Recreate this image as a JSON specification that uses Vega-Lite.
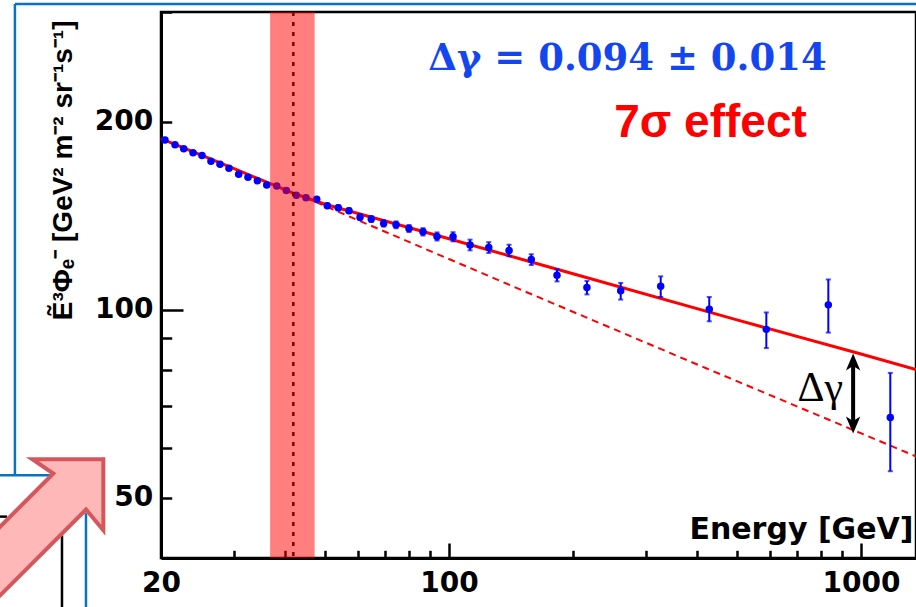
{
  "$schema": "https://vega.github.io/schema/vega-lite/v6.json",
  "width": 755,
  "height": 546,
  "autosize": {"type": "none"},
  "padding": {"left": 161, "top": 12, "right": 0, "bottom": 49},
  "background": "white",
  "config": {"view": {"stroke": "black", "strokeWidth": 2.5}},
  "datasets": {
    "points": [
      {"E": 20.45, "F": 187.0, "lo": 186.0, "hi": 188.0},
      {"E": 21.63, "F": 183.8, "lo": 182.8, "hi": 184.8},
      {"E": 22.71, "F": 181.1, "lo": 180.1, "hi": 182.1},
      {"E": 23.92, "F": 178.4, "lo": 177.4, "hi": 179.4},
      {"E": 25.15, "F": 176.7, "lo": 175.7, "hi": 177.7},
      {"E": 26.44, "F": 172.9, "lo": 171.9, "hi": 173.9},
      {"E": 27.81, "F": 171.1, "lo": 170.1, "hi": 172.1},
      {"E": 29.24, "F": 168.6, "lo": 167.6, "hi": 169.6},
      {"E": 30.87, "F": 164.8, "lo": 163.8, "hi": 165.8},
      {"E": 32.52, "F": 163.1, "lo": 162.0, "hi": 164.2},
      {"E": 34.26, "F": 160.9, "lo": 159.8, "hi": 162.0},
      {"E": 36.11, "F": 158.4, "lo": 157.3, "hi": 159.5},
      {"E": 38.19, "F": 157.8, "lo": 156.7, "hi": 158.9},
      {"E": 40.29, "F": 155.3, "lo": 154.2, "hi": 156.4},
      {"E": 42.6, "F": 152.5, "lo": 151.4, "hi": 153.6},
      {"E": 44.98, "F": 151.2, "lo": 150.0, "hi": 152.4},
      {"E": 47.75, "F": 150.3, "lo": 149.1, "hi": 151.5},
      {"E": 50.66, "F": 146.7, "lo": 145.5, "hi": 147.9},
      {"E": 53.87, "F": 145.7, "lo": 144.4, "hi": 147.0},
      {"E": 57.19, "F": 144.1, "lo": 142.8, "hi": 145.4},
      {"E": 60.82, "F": 140.7, "lo": 139.2, "hi": 142.3},
      {"E": 64.77, "F": 139.7, "lo": 138.2, "hi": 141.2},
      {"E": 69.42, "F": 137.5, "lo": 135.9, "hi": 139.1},
      {"E": 74.39, "F": 136.8, "lo": 135.1, "hi": 138.5},
      {"E": 79.98, "F": 134.9, "lo": 133.2, "hi": 136.7},
      {"E": 86.48, "F": 133.3, "lo": 131.5, "hi": 135.1},
      {"E": 93.52, "F": 131.0, "lo": 129.1, "hi": 133.0},
      {"E": 102.3, "F": 130.9, "lo": 128.7, "hi": 133.1},
      {"E": 112.5, "F": 127.0, "lo": 124.5, "hi": 129.5},
      {"E": 124.9, "F": 125.8, "lo": 123.3, "hi": 128.3},
      {"E": 139.9, "F": 124.4, "lo": 121.8, "hi": 127.1},
      {"E": 158.4, "F": 120.4, "lo": 117.9, "hi": 122.7},
      {"E": 182.9, "F": 113.6, "lo": 111.0, "hi": 116.1},
      {"E": 216.2, "F": 108.5, "lo": 105.8, "hi": 111.2},
      {"E": 261.1, "F": 107.2, "lo": 103.8, "hi": 110.4},
      {"E": 326.5, "F": 109.0, "lo": 104.8, "hi": 113.1},
      {"E": 428.3, "F": 100.2, "lo": 95.8, "hi": 104.8},
      {"E": 589.2, "F": 93.0, "lo": 86.8, "hi": 99.0},
      {"E": 833.2, "F": 101.8, "lo": 91.9, "hi": 111.8},
      {"E": 1178, "F": 67.2, "lo": 55.1, "hi": 79.2}
    ],
    "fit": [
      {"E": 20, "F": 188.0},
      {"E": 30, "F": 168.4},
      {"E": 42, "F": 153.6},
      {"E": 50, "F": 147.6},
      {"E": 100, "F": 129.9},
      {"E": 200, "F": 114.2},
      {"E": 500, "F": 96.3},
      {"E": 1000, "F": 84.9},
      {"E": 1360, "F": 80.2}
    ],
    "extrap": [
      {"E": 44.7, "F": 151.3},
      {"E": 148.7, "F": 107.8},
      {"E": 422.2, "F": 80.5},
      {"E": 1360, "F": 58.2}
    ],
    "deco": [
      {"kind": "blue", "x1": 8.84, "x2": 1500, "y1": 309, "y2": 309},
      {"kind": "blue", "x1": 8.84, "x2": 8.84, "y1": 309, "y2": 54.3},
      {"kind": "blue", "x1": 7.5, "x2": 10.76, "y1": 54.3, "y2": 54.3},
      {"kind": "blue", "x1": 13.15, "x2": 13.15, "y1": 47.2, "y2": 30},
      {"kind": "black", "x1": 11.5, "x2": 11.5, "y1": 43.5, "y2": 30},
      {"kind": "black", "x1": 7.5, "x2": 8.46, "y1": 46.6, "y2": 46.6}
    ]
  },
  "resolve": {"axis": {"x": "independent", "y": "independent"}},
  "layer": [
    {
      "data": {"name": "deco"},
      "mark": {"type": "rule", "strokeWidth": 2.5, "clip": false},
      "encoding": {
        "x": {"field": "x1", "type": "quantitative", "scale": {"type": "log", "domain": [20, 1360], "nice": false}, "axis": null},
        "x2": {"field": "x2"},
        "y": {"field": "y1", "type": "quantitative", "scale": {"type": "log", "domain": [40, 300], "nice": false}, "axis": null},
        "y2": {"field": "y2"},
        "color": {"field": "kind", "type": "nominal", "scale": {"domain": ["blue", "black"], "range": ["#0a72c4", "#000000"]}, "legend": null}
      }
    },
    {
      "data": {"values": [{"E": 14.49, "F": 57.6}]},
      "mark": {"type": "point", "shape": "M0,0 L0,7.1 L-1.73,5.03 L-13.73,17.03 L-17,13.43 L-5,1.43 L-7.1,0 Z", "size": 400, "filled": true, "fill": "#ffb8b8", "fillOpacity": 1, "stroke": "#d5575c", "strokeWidth": 4, "opacity": 1, "clip": false},
      "encoding": {
        "x": {"field": "E", "type": "quantitative", "axis": null},
        "y": {"field": "F", "type": "quantitative", "axis": null}
      }
    },
    {
      "data": {"name": "extrap"},
      "mark": {"type": "line", "color": "#ff0000", "strokeWidth": 2, "strokeDash": [7, 5]},
      "encoding": {
        "x": {"field": "E", "type": "quantitative",
          "axis": {"orient": "bottom", "values": [20, 100, 1000], "tickSize": -15, "tickWidth": 2.5, "tickColor": "black",
            "domain": true, "domainWidth": 3, "domainColor": "black", "grid": false,
            "labelExpr": "format(datum.value, 'd')", "labelFont": "DejaVu Sans", "labelFontWeight": "bold", "labelFontSize": 28, "labelColor": "black", "labelPadding": 26, "labelFlush": false,
            "title": "Energy [GeV]", "titleFont": "DejaVu Sans", "titleFontWeight": "bold", "titleFontSize": 30, "titleColor": "black",
            "titleX": 752, "titleY": -20, "titleAlign": "right", "titleBaseline": "alphabetic", "titleAnchor": null}},
        "y": {"field": "F", "type": "quantitative",
          "axis": {"orient": "left", "values": [100], "tickSize": -22, "tickWidth": 2.5, "tickColor": "black",
            "domain": true, "domainWidth": 3, "domainColor": "black", "grid": false,
            "labelExpr": "format(datum.value, 'd')", "labelFont": "DejaVu Sans", "labelFontWeight": "bold", "labelFontSize": 28, "labelColor": "black", "labelPadding": 30,
            "title": "Ẽ³Φₑ⁻ [GeV² m⁻² sr⁻¹s⁻¹]", "titleFont": "Liberation Sans", "titleFontWeight": "bold", "titleFontSize": 28, "titleColor": "black",
            "titleX": -90, "titleY": 8, "titleAngle": -90, "titleAlign": "right", "titleBaseline": "alphabetic"}}
      }
    },
    {
      "data": {"name": "fit"},
      "mark": {"type": "line", "color": "#ff0000", "strokeWidth": 3},
      "encoding": {
        "x": {"field": "E", "type": "quantitative",
          "axis": {"orient": "bottom", "values": [30, 40, 50, 60, 70, 80, 90, 200, 300, 400, 500, 600, 700, 800, 900], "tickSize": -7.7, "tickWidth": 2.5, "tickColor": "black",
            "domain": false, "grid": false, "labels": false, "title": null}},
        "y": {"field": "F", "type": "quantitative",
          "axis": {"orient": "left", "values": [50, 60, 70, 80, 90, 200, 300], "tickSize": -10.7, "tickWidth": 2.5, "tickColor": "black",
            "domain": false, "grid": false,
            "labelExpr": "datum.value == 50 || datum.value == 200 ? format(datum.value, 'd') : ''", "labelFont": "DejaVu Sans", "labelFontWeight": "bold", "labelFontSize": 28, "labelColor": "black", "labelPadding": 19,
            "title": null}}
      }
    },
    {
      "data": {"name": "points"},
      "mark": {"type": "rule", "color": "#0000ff", "strokeWidth": 2},
      "encoding": {
        "x": {"field": "E", "type": "quantitative", "axis": null},
        "y": {"field": "lo", "type": "quantitative", "axis": null},
        "y2": {"field": "hi"}
      }
    },
    {
      "data": {"name": "points"},
      "mark": {"type": "tick", "orient": "horizontal", "color": "#0000ff", "size": 5, "thickness": 2},
      "encoding": {
        "x": {"field": "E", "type": "quantitative", "axis": null},
        "y": {"field": "lo", "type": "quantitative", "axis": null}
      }
    },
    {
      "data": {"name": "points"},
      "mark": {"type": "tick", "orient": "horizontal", "color": "#0000ff", "size": 5, "thickness": 2},
      "encoding": {
        "x": {"field": "E", "type": "quantitative", "axis": null},
        "y": {"field": "hi", "type": "quantitative", "axis": null}
      }
    },
    {
      "data": {"name": "points"},
      "mark": {"type": "circle", "color": "#0000ff", "size": 56, "opacity": 1},
      "encoding": {
        "x": {"field": "E", "type": "quantitative", "axis": null},
        "y": {"field": "F", "type": "quantitative", "axis": null}
      }
    },
    {
      "data": {"values": [{"E": 41.9}]},
      "mark": {"type": "rule", "color": "black", "strokeWidth": 2.5, "strokeDash": [4, 6]},
      "encoding": {
        "x": {"field": "E", "type": "quantitative", "axis": null}
      }
    },
    {
      "data": {"values": [{"lo": 36.8, "hi": 47.2}]},
      "mark": {"type": "rect", "color": "#ff0000", "opacity": 0.5},
      "encoding": {
        "x": {"field": "lo", "type": "quantitative", "axis": null},
        "x2": {"field": "hi"}
      }
    },
    {
      "data": {"values": [{"E": 957, "lo": 66.2, "hi": 81.4}]},
      "mark": {"type": "rule", "color": "black", "strokeWidth": 4},
      "encoding": {
        "x": {"field": "E", "type": "quantitative", "axis": null},
        "y": {"field": "lo", "type": "quantitative", "axis": null},
        "y2": {"field": "hi"}
      }
    },
    {
      "data": {"values": [{"E": 957, "F": 85.1}]},
      "mark": {"type": "point", "shape": "M0,0 L0.8,1.9 L0,1.4 L-0.8,1.9 Z", "size": 324, "filled": true, "color": "black", "opacity": 1},
      "encoding": {
        "x": {"field": "E", "type": "quantitative", "axis": null},
        "y": {"field": "F", "type": "quantitative", "axis": null}
      }
    },
    {
      "data": {"values": [{"E": 957, "F": 63.3}]},
      "mark": {"type": "point", "shape": "M0,0 L0.8,-1.9 L0,-1.4 L-0.8,-1.9 Z", "size": 324, "filled": true, "color": "black", "opacity": 1},
      "encoding": {
        "x": {"field": "E", "type": "quantitative", "axis": null},
        "y": {"field": "F", "type": "quantitative", "axis": null}
      }
    },
    {
      "data": {"values": [{"E": 904.6, "F": 71.4, "t": "Δγ"}]},
      "mark": {"type": "text", "font": "Liberation Serif", "fontSize": 42, "color": "black", "align": "right", "baseline": "alphabetic"},
      "encoding": {
        "x": {"field": "E", "type": "quantitative", "axis": null},
        "y": {"field": "F", "type": "quantitative", "axis": null},
        "text": {"field": "t"}
      }
    },
    {
      "data": {"values": [{"E": 271.2, "F": 242.2, "t": "Δγ = 0.094 ± 0.014"}]},
      "mark": {"type": "text", "font": "DejaVu Serif", "fontWeight": "bold", "fontSize": 37, "color": "#1446f0", "align": "center", "baseline": "alphabetic"},
      "encoding": {
        "x": {"field": "E", "type": "quantitative", "axis": null},
        "y": {"field": "F", "type": "quantitative", "axis": null},
        "text": {"field": "t"}
      }
    },
    {
      "data": {"values": [{"E": 431.4, "F": 189.3, "t": "7σ effect"}]},
      "mark": {"type": "text", "font": "Liberation Sans", "fontWeight": "bold", "fontSize": 46, "color": "#ff0000", "align": "center", "baseline": "alphabetic"},
      "encoding": {
        "x": {"field": "E", "type": "quantitative", "axis": null},
        "y": {"field": "F", "type": "quantitative", "axis": null},
        "text": {"field": "t"}
      }
    }
  ]
}
